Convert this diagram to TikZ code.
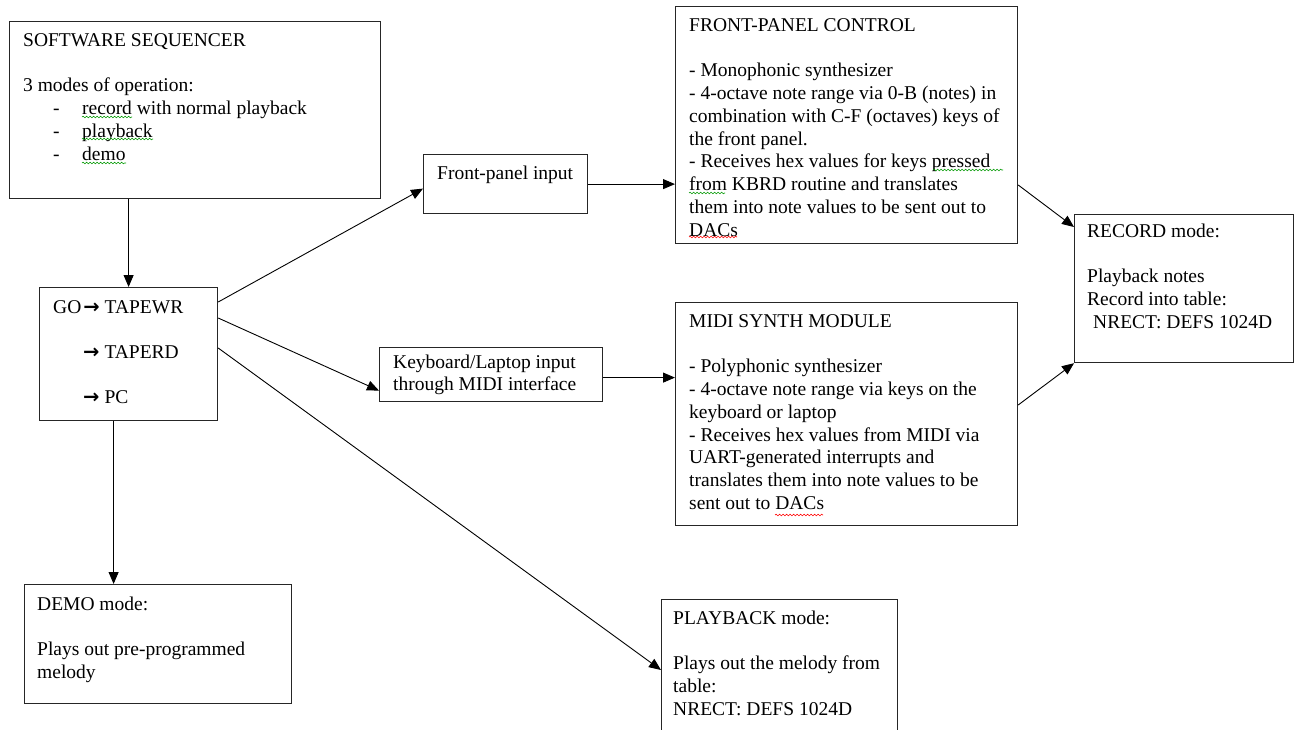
\documentclass[tikz,border=0pt]{standalone}
\usepackage{fontspec}
\setmainfont{Liberation Serif}
\newfontfamily\symfont{DejaVu Sans}
\usetikzlibrary{arrows.meta,decorations.pathmorphing}
\newcommand\blk[1]{\parbox[t]{340pt}{\raggedright #1}}
\newcommand\goarrow{{\symfont\bfseries →}}
\begin{document}
\begin{tikzpicture}[x=1pt,y=-1pt,
  box/.style={draw=black!85, line width=1.2pt, rectangle, anchor=north west, inner sep=0pt},
  txt/.style={anchor=base west, inner sep=0pt, font=\fontsize{19.5}{22.8}\selectfont},
  arr/.style={line width=0.9pt, -{Triangle[length=12pt,width=10pt]}},
  squig/.style={draw=#1, line width=0.6pt, decorate, decoration={snake, amplitude=0.8pt, segment length=3.5pt}}]
\clip (0,0) rectangle (1294,729);
\fill[white] (0,0) rectangle (1294,729);

% boxes
\node[box, minimum width=371pt, minimum height=177pt] (seq) at (9,21) {};
\node[box, minimum width=178pt, minimum height=133pt] (go) at (39,287) {};
\node[box, minimum width=164pt, minimum height=59pt] (fpi) at (423,154) {};
\node[box, minimum width=342pt, minimum height=237pt] (fpc) at (675,6) {};
\node[box, minimum width=342pt, minimum height=223pt] (midi) at (675,302) {};
\node[box, minimum width=223pt, minimum height=54pt] (kb) at (379,347) {};
\node[box, minimum width=219pt, minimum height=148pt] (rec) at (1074,214) {};
\node[box, minimum width=267pt, minimum height=119pt] (demo) at (24,584) {};
\node[box, minimum width=236pt, minimum height=150pt] (pb) at (661,599) {};

% texts
\node[txt] (seqt) at (23,46) {\blk{SOFTWARE SEQUENCER\\ \strut\\ 3 modes of operation:\\
  \hspace*{30pt}\makebox[29pt][l]{-}record with normal playback\\
  \hspace*{30pt}\makebox[29pt][l]{-}playback\\
  \hspace*{30pt}\makebox[29pt][l]{-}demo}};
\node[txt] (go1) at (53,313) {GO\hspace{2pt}\goarrow\hspace{5pt}TAPEWR};
\node[txt] (go2) at (83,358) {\goarrow\hspace{5pt}TAPERD};
\node[txt] (go3) at (83,403) {\goarrow\hspace{5pt}PC};
\node[txt] (fpit) at (437,179) {Front-panel input};
\node[txt] (fpct) at (689,31) {\blk{FRONT-PANEL CONTROL\\ \strut\\
  - Monophonic synthesizer\\
  - 4-octave note range via 0-B (notes) in\\
  combination with C-F (octaves) keys of\\
  the front panel.\\
  - Receives hex values for keys pressed\\
  from KBRD routine and translates\\
  them into note values to be sent out to\\
  DACs}};
\node[txt] (midit) at (689,327) {\blk{MIDI SYNTH MODULE\\ \strut\\
  - Polyphonic synthesizer\\
  - 4-octave note range via keys on the\\
  keyboard or laptop\\
  - Receives hex values from MIDI via\\
  UART-generated interrupts and\\
  translates them into note values to be\\
  sent out to DACs}};
\node[txt] (kbt) at (393,368) {\blk{Keyboard/Laptop input\\ through MIDI interface}};
\node[txt] (rect) at (1087,237) {\blk{RECORD mode:\\ \strut\\ Playback notes\\ Record into table:\\ \hspace*{6pt}NRECT: DEFS 1024D}};
\node[txt] (demot) at (37,610) {\blk{DEMO mode:\\ \strut\\ Plays out pre-programmed\\ melody}};
\node[txt] (pbt) at (673,624) {\blk{PLAYBACK mode:\\ \strut\\ Plays out the melody from\\ table:\\ NRECT: DEFS 1024D}};

% spell-check squiggles
\draw[squig=green!60!black] (82,117) -- (132,117);
\draw[squig=green!60!black] (82,139) -- (153,139);
\draw[squig=green!60!black] (82,163) -- (126,163);
\draw[squig=green!60!black] (933,170) -- (1003,170);
\draw[squig=green!60!black] (689,193) -- (725,193);
\draw[squig=red] (689,237) -- (737,237);
\draw[squig=red] (775,515) -- (823,515);

% connectors
\coordinate (goA) at ([yshift=-15pt]go.north east);
\coordinate (goB) at ([yshift=-31pt]go.north east);
\coordinate (goC) at ([yshift=-61pt]go.north east);
\draw[arr] (go.north |- seq.south) -- (go.north);
\draw[arr] (goA) -- ([yshift=-4.5pt]fpi.west);
\draw[arr] (goB) -- ([yshift=-16pt]kb.west);
\draw[arr] (goC) -- ([yshift=-71pt]pb.north west);
\draw[arr] ([xshift=-15pt]go.south) -- ([xshift=-15pt]go.south |- demo.north);
\draw[arr] (fpi.east) -- (fpi.east -| fpc.west);
\draw[arr] ([yshift=-3pt]kb.east) -- ([yshift=-3pt]kb.east -| midi.west);
\draw[arr] ([yshift=-179pt]fpc.north east) -- ([yshift=-13pt]rec.north west);
\draw[arr] ([yshift=-103pt]midi.north east) -- (rec.south west);
\end{tikzpicture}
\end{document}
